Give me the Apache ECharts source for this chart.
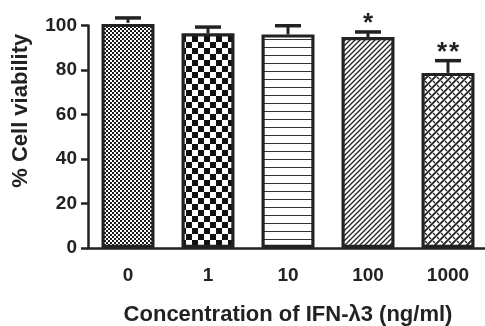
<!DOCTYPE html>
<html>
<head>
<meta charset="utf-8">
<script src="https://cdn.jsdelivr.net/npm/echarts@6/dist/echarts.min.js"></script>
<style>
html,body{margin:0;padding:0;background:#fff;}
#c{width:485px;height:326px;}
</style>
</head>
<body>
<div id="c"></div>
<script>
// ---- data ----
const categories = ['0', '1', '10', '100', '1000'];
const viability = [101.2, 96.5, 96, 94.8, 78.7];
const sem = [2.2, 2.8, 3.9, 2.3, 5.5];
const significance = ['', '', '', '*', '**'];
const yTicks = [0, 20, 40, 60, 80, 100];
const xName = 'Concentration of IFN-\u03bb3 (ng/ml)';
const yName = '% Cell viability';

const INK = '#222';
const FONT = 'Liberation Sans, Arial, Helvetica, sans-serif';

function makeCanvas(w, h, draw) {
  const c = document.createElement('canvas');
  c.width = w; c.height = h;
  const ctx = c.getContext('2d');
  ctx.fillStyle = '#fff';
  ctx.fillRect(0, 0, w, h);
  draw(ctx, w, h);
  return c;
}
const patterns = [
  // fine checkerboard
  makeCanvas(4, 4, (ctx) => { ctx.fillStyle = '#1a1a1a'; ctx.fillRect(0,0,2,2); ctx.fillRect(2,2,2,2); }),
  // coarse checkerboard
  makeCanvas(12, 12, (ctx) => { ctx.fillStyle = '#111'; ctx.fillRect(0,0,6,6); ctx.fillRect(6,6,6,6); }),
  // horizontal lines
  makeCanvas(8, 8, (ctx) => { ctx.fillStyle = '#333'; ctx.fillRect(0,7,8,1.2); }),
  // forward diagonal hatch
  makeCanvas(5, 5, (ctx) => {
    ctx.strokeStyle = '#222'; ctx.lineWidth = 1.3;
    ctx.beginPath();
    for (let k = -1; k <= 1; k++) { ctx.moveTo(k*5 - 1, 6); ctx.lineTo(k*5 + 6, -1); }
    ctx.stroke();
  }),
  // weave crosshatch
  makeCanvas(8, 8, (ctx) => {
    ctx.strokeStyle = '#222'; ctx.lineWidth = 1.8;
    ctx.beginPath();
    for (let k = -1; k <= 1; k++) { ctx.moveTo(k*8 - 1, 9); ctx.lineTo(k*8 + 9, -1); }
    ctx.stroke();
    ctx.lineWidth = 1.3;
    ctx.beginPath();
    ctx.moveTo(1, 1); ctx.lineTo(3, 3);
    ctx.moveTo(5, 5); ctx.lineTo(7, 7);
    ctx.stroke();
  })
];

const chart = echarts.init(document.getElementById('c'), null, {renderer: 'canvas'});

const barData = viability.map((v, i) => ({
  value: v,
  itemStyle: { color: { image: patterns[i], repeat: 'repeat' } }
}));
const errData = viability.map((v, i) => [i, v, sem[i], significance[i]]);

chart.setOption({
  animation: false,
  backgroundColor: '#fff',
  grid: { left: 88, right: -3, top: 25.5, bottom: 78, containLabel: false, outerBoundsMode: 'none' },
  xAxis: {
    type: 'category',
    data: categories,
    name: xName,
    nameLocation: 'middle',
    nameGap: 56,
    nameTextStyle: { fontFamily: FONT, fontWeight: 'bold', fontSize: 22, color: INK },
    axisLine: { lineStyle: { color: INK, width: 2.5 } },
    axisTick: { alignWithLabel: true, length: 7, lineStyle: { color: INK, width: 2.5 } },
    axisLabel: { margin: 18, fontFamily: FONT, fontWeight: 'bold', fontSize: 19, color: INK }
  },
  yAxis: {
    type: 'value',
    min: yTicks[0],
    max: yTicks[yTicks.length - 1],
    interval: yTicks[1] - yTicks[0],
    name: yName,
    nameLocation: 'middle',
    nameGap: 56,
    nameTextStyle: { fontFamily: FONT, fontWeight: 'bold', fontSize: 22, color: INK, padding: [0, 0, 0, 52] },
    splitLine: { show: false },
    axisLine: { show: true, lineStyle: { color: INK, width: 2.5 } },
    axisTick: { show: true, length: 7, lineStyle: { color: INK, width: 2.5 } },
    axisLabel: { margin: 11, fontFamily: FONT, fontWeight: 'bold', fontSize: 19, color: INK }
  },
  series: [
    {
      type: 'bar',
      data: barData,
      barWidth: 53,
      itemStyle: { borderColor: INK, borderWidth: 3.2 },
      z: 2
    },
    {
      type: 'custom',
      data: errData,
      z: 3,
      renderItem: function (params, api) {
        const x = api.value(0);
        const mean = api.value(1);
        const err = api.value(2);
        const sig = errData[params.dataIndex][3];
        const p0 = api.coord([x, mean]);
        const p1 = api.coord([x, mean + err]);
        const children = [
          { type: 'line', shape: { x1: p0[0], y1: p0[1], x2: p1[0], y2: p1[1] }, style: { stroke: INK, lineWidth: 3 } },
          { type: 'line', shape: { x1: p1[0] - 13, y1: p1[1], x2: p1[0] + 13, y2: p1[1] }, style: { stroke: INK, lineWidth: 3.5 } }
        ];
        const n = sig.length;
        for (let k = 0; k < n; k++) {
          children.push({
            type: 'text',
            style: {
              text: sig[k],
              x: p1[0] + (k - (n - 1) / 2) * 12,
              y: p1[1] - 8,
              align: 'center',
              verticalAlign: 'middle',
              font: 'bold 26px ' + FONT,
              fill: INK
            }
          });
        }
        return { type: 'group', children: children };
      }
    }
  ]
});
</script>
</body>
</html>
